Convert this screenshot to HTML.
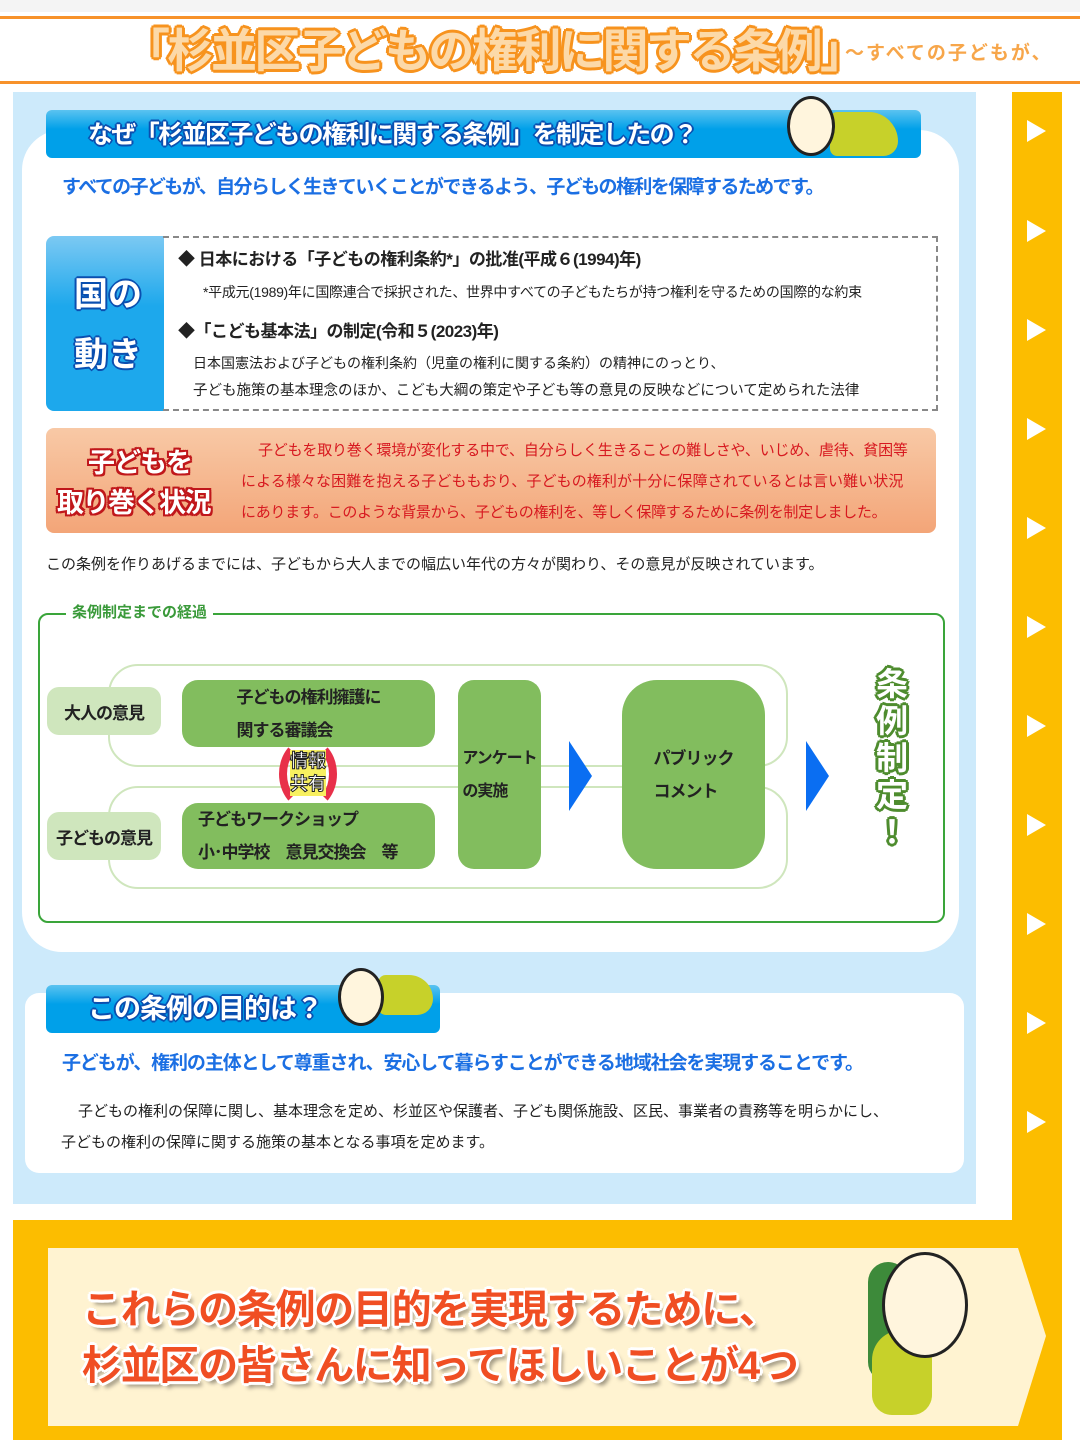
<!DOCTYPE html>
<html><head><meta charset="utf-8"><style>
*{margin:0;padding:0;box-sizing:border-box}
body{width:1080px;height:1440px;position:relative;background:#fff;font-family:"Liberation Sans","Noto Sans CJK JP",sans-serif;overflow:hidden;color:#222}
.a{position:absolute}
.t{position:absolute;white-space:nowrap;transform-origin:left center}
.tri{position:absolute;left:1027px;width:0;height:0;border-top:11px solid transparent;border-bottom:11px solid transparent;border-left:19px solid #fff}
.g{position:absolute;background:#82bd5e;border-radius:16px;color:#222;font-weight:bold;font-size:17px;display:flex;flex-direction:column;justify-content:center;align-items:center;line-height:33px;white-space:nowrap;letter-spacing:-1px}
.lg{position:absolute;background:#cfe6bd;border-radius:12px;font-weight:bold;font-size:17px;display:flex;align-items:center;justify-content:center;letter-spacing:-1px}
.ob{text-shadow:-1px -1px 0 #0a4fb0,1px -1px 0 #0a4fb0,-1px 1px 0 #0a4fb0,1px 1px 0 #0a4fb0,0 2px 0 #0a4fb0,2px 0 0 #0a4fb0,-2px 0 0 #0a4fb0,0 -2px 0 #0a4fb0}
.or{text-shadow:-2px -2px 0 #c0171b,2px -2px 0 #c0171b,-2px 2px 0 #c0171b,2px 2px 0 #c0171b,0 2px 0 #c0171b,2px 0 0 #c0171b,-2px 0 0 #c0171b,0 -2px 0 #c0171b}
.ow{text-shadow:-2px -2px 0 #fff,2px -2px 0 #fff,-2px 2px 0 #fff,2px 2px 0 #fff,0 3px 0 #fff,3px 0 0 #fff,-3px 0 0 #fff,0 -3px 0 #fff,4px 5px 4px rgba(0,0,0,.4)}
.og{text-shadow:-2px -2px 0 #4e8c2e,2px -2px 0 #4e8c2e,-2px 2px 0 #4e8c2e,2px 2px 0 #4e8c2e,0 3px 0 #4e8c2e,3px 0 0 #4e8c2e,-3px 0 0 #4e8c2e,0 -3px 0 #4e8c2e}
.oo{text-shadow:-2px -2px 0 #f7931e,2px -2px 0 #f7931e,-2px 2px 0 #f7931e,2px 2px 0 #f7931e,0 3px 0 #f7931e,3px 0 0 #f7931e,-3px 0 0 #f7931e,0 -3px 0 #f7931e}
</style></head><body>
<div class="a" style="left:0;top:0;width:1080px;height:12px;background:#f4f4f4"></div>
<div class="a" style="left:0;top:16px;width:1080px;height:3px;background:#f7922a"></div>
<div class="a" style="left:0;top:81px;width:1080px;height:3px;background:#f7922a"></div>
<div class="t oo" style="left:124px;top:20px;font-size:46px;font-weight:bold;color:#fcd9a8;letter-spacing:-2.5px;line-height:62px">「杉並区子どもの権利に関する条例」</div>
<div class="t" style="left:845px;top:38px;font-size:19px;font-weight:bold;color:#f7a64a;letter-spacing:2px">～すべての子どもが、</div>

<div class="a" style="left:13px;top:92px;width:963px;height:1112px;background:#cdeafb"></div>
<div class="a" style="left:1012px;top:92px;width:50px;height:1130px;background:#fcbd00"></div>
<div class="tri" style="top:120px"></div><div class="tri" style="top:220px"></div><div class="tri" style="top:319px"></div><div class="tri" style="top:418px"></div><div class="tri" style="top:517px"></div><div class="tri" style="top:616px"></div><div class="tri" style="top:715px"></div><div class="tri" style="top:814px"></div><div class="tri" style="top:913px"></div><div class="tri" style="top:1012px"></div><div class="tri" style="top:1111px"></div>

<div class="a" style="left:22px;top:130px;width:937px;height:822px;background:#fff;border-radius:40px"></div>
<div class="a" style="left:46px;top:110px;width:875px;height:48px;background:linear-gradient(#5bc3f0,#00a0e9 40%);border-radius:6px"></div>
<div class="t ob" style="left:88px;top:116px;font-size:25px;font-weight:bold;color:#fff;line-height:38px;letter-spacing:-1.6px">なぜ「杉並区子どもの権利に関する条例」を制定したの？</div>
<div class="a" style="left:830px;top:112px;width:68px;height:44px;background:#c7d12a;border-radius:10px 40px 20px 10px"></div>
<div class="a" style="left:787px;top:96px;width:48px;height:60px;background:#fff5dd;border:3px solid #222;border-radius:50%"></div>
<div class="t" style="left:62px;top:174px;font-size:19px;font-weight:bold;color:#1b6fe3;line-height:28px;letter-spacing:-1.6px">すべての子どもが、自分らしく生きていくことができるよう、子どもの権利を保障するためです。</div>

<div class="a" style="left:46px;top:236px;width:118px;height:175px;background:linear-gradient(#7cc9f3,#1da8ec 40%);border-radius:8px 0 0 8px"></div>
<div class="t ob" style="left:74px;top:265px;font-size:34px;font-weight:bold;color:#fff;line-height:60px">国の<br>動き</div>
<div class="a" style="left:163px;top:236px;width:775px;height:175px;border:2px dashed #888;border-left:none"></div>
<div class="t" style="left:178px;top:248px;font-size:17px;font-weight:bold;line-height:24px;letter-spacing:-0.5px">◆ 日本における「子どもの権利条約*」の批准(平成６(1994)年)</div>
<div class="t" style="left:203px;top:282px;font-size:14px;line-height:20px;letter-spacing:-0.3px">*平成元(1989)年に国際連合で採択された、世界中すべての子どもたちが持つ権利を守るための国際的な約束</div>
<div class="t" style="left:178px;top:320px;font-size:17px;font-weight:bold;line-height:24px;letter-spacing:-0.5px">◆「こども基本法」の制定(令和５(2023)年)</div>
<div class="t" style="left:193px;top:353px;font-size:14px;line-height:20px">日本国憲法および子どもの権利条約（児童の権利に関する条約）の精神にのっとり、</div>
<div class="t" style="left:193px;top:381px;font-size:14.5px;line-height:20px">子ども施策の基本理念のほか、こども大綱の策定や子ども等の意見の反映などについて定められた法律</div>

<div class="a" style="left:46px;top:428px;width:890px;height:105px;background:linear-gradient(#f8c9a6,#f3a578);border-radius:8px"></div>
<div class="t or" style="left:88px;top:446px;font-size:27px;font-weight:bold;color:#fff;line-height:34px;letter-spacing:-1px">子どもを</div>
<div class="t or" style="left:57px;top:486px;font-size:27px;font-weight:bold;color:#fff;line-height:34px;letter-spacing:-1.5px">取り巻く状況</div>
<div class="t" style="left:258px;top:440px;font-size:15px;color:#d71920;line-height:22px;letter-spacing:-0.2px">子どもを取り巻く環境が変化する中で、自分らしく生きることの難しさや、いじめ、虐待、貧困等</div>
<div class="t" style="left:241px;top:471px;font-size:15px;color:#d71920;line-height:22px;letter-spacing:0.1px">による様々な困難を抱える子どももおり、子どもの権利が十分に保障されているとは言い難い状況</div>
<div class="t" style="left:241px;top:502px;font-size:15px;color:#d71920;line-height:22px;letter-spacing:-0.3px">にあります。このような背景から、子どもの権利を、等しく保障するために条例を制定しました。</div>
<div class="t" style="left:46px;top:554px;font-size:15px;line-height:22px">この条例を作りあげるまでには、子どもから大人までの幅広い年代の方々が関わり、その意見が反映されています。</div>

<div class="a" style="left:38px;top:613px;width:907px;height:310px;border:2px solid #3aa53a;border-radius:10px"></div>
<div class="t" style="left:66px;top:602px;font-size:15px;font-weight:bold;color:#3a9a3a;background:#fff;padding:0 6px;line-height:22px">条例制定までの経過</div>
<div class="a" style="left:108px;top:664px;width:680px;height:103px;border:2px solid #cfe6bd;border-radius:30px"></div>
<div class="a" style="left:108px;top:786px;width:680px;height:103px;border:2px solid #cfe6bd;border-radius:30px"></div>
<div class="lg" style="left:47px;top:687px;width:114px;height:48px">大人の意見</div>
<div class="lg" style="left:47px;top:812px;width:114px;height:48px">子どもの意見</div>
<div class="g" style="left:182px;top:680px;width:253px;height:67px">子どもの権利擁護に<br>関する審議会</div>
<div class="g" style="left:182px;top:803px;width:253px;height:66px;align-items:flex-start;padding-left:16px">子どもワークショップ<br>小･中学校　意見交換会　等</div>
<div class="a" style="left:279px;top:738px;width:58px;height:72px;border:8px solid #e8304a;border-radius:50%;border-top-color:transparent;border-bottom-color:transparent"></div>
<div class="t" style="left:290px;top:750px;font-size:18px;font-weight:bold;color:#fff;-webkit-text-stroke:1px #222;background:#f8f060;line-height:23px">情報<br>共有</div>
<div class="g" style="left:458px;top:680px;width:83px;height:189px;font-size:16px">アンケート<br>の実施</div>
<div class="a" style="left:569px;top:741px;width:0;height:0;border-top:35px solid transparent;border-bottom:35px solid transparent;border-left:23px solid #0a6ef2"></div>
<div class="g" style="left:622px;top:680px;width:143px;height:189px;border-radius:35px">パブリック<br>コメント</div>
<div class="a" style="left:806px;top:741px;width:0;height:0;border-top:35px solid transparent;border-bottom:35px solid transparent;border-left:23px solid #0a6ef2"></div>
<div class="t og" style="left:874px;top:666px;font-size:32px;font-weight:bold;color:#fff;line-height:37px;width:36px;text-align:center">条<br>例<br>制<br>定<br>！</div>

<div class="a" style="left:25px;top:993px;width:939px;height:180px;background:#fff;border-radius:14px"></div>
<div class="a" style="left:46px;top:985px;width:394px;height:48px;background:linear-gradient(#5bc3f0,#00a0e9 40%);border-radius:6px"></div>
<div class="t ob" style="left:88px;top:990px;font-size:27px;font-weight:bold;color:#fff;line-height:38px;letter-spacing:-1px">この条例の目的は？</div>
<div class="a" style="left:378px;top:975px;width:55px;height:40px;background:#c7d12a;border-radius:10px 30px 20px 10px"></div>
<div class="a" style="left:338px;top:968px;width:46px;height:58px;background:#fff5dd;border:3px solid #222;border-radius:50%"></div>
<div class="t" style="left:62px;top:1050px;font-size:19px;font-weight:bold;color:#1b6fe3;line-height:28px;letter-spacing:-1.1px">子どもが、権利の主体として尊重され、安心して暮らすことができる地域社会を実現することです。</div>
<div class="t" style="left:78px;top:1101px;font-size:15px;line-height:22px">子どもの権利の保障に関し、基本理念を定め、杉並区や保護者、子ども関係施設、区民、事業者の責務等を明らかにし、</div>
<div class="t" style="left:61px;top:1132px;font-size:15px;line-height:22px">子どもの権利の保障に関する施策の基本となる事項を定めます。</div>

<div class="a" style="left:13px;top:1220px;width:1049px;height:220px;background:#fcbd00"></div>
<svg class="a" style="left:48px;top:1248px" width="1000" height="180"><polygon points="0,0 970,0 998,88 970,178 0,178" fill="#fff3d1"/></svg>
<div class="t ow" style="left:82px;top:1282px;font-size:40px;font-weight:bold;color:#f04e23;line-height:56px;letter-spacing:-1.3px">これらの条例の目的を実現するために、</div>
<div class="t ow" style="left:82px;top:1338px;font-size:40px;font-weight:bold;color:#f04e23;line-height:56px;letter-spacing:-1.3px">杉並区の皆さんに知ってほしいことが4つ</div>
<div class="a" style="left:868px;top:1262px;width:40px;height:120px;background:#3d8a3a;border-radius:20px"></div>
<div class="a" style="left:872px;top:1330px;width:60px;height:85px;background:#c7d12a;border-radius:30px 30px 20px 20px"></div>
<div class="a" style="left:882px;top:1252px;width:86px;height:106px;background:#fff5dd;border:3px solid #222;border-radius:50%"></div>
</body></html>
